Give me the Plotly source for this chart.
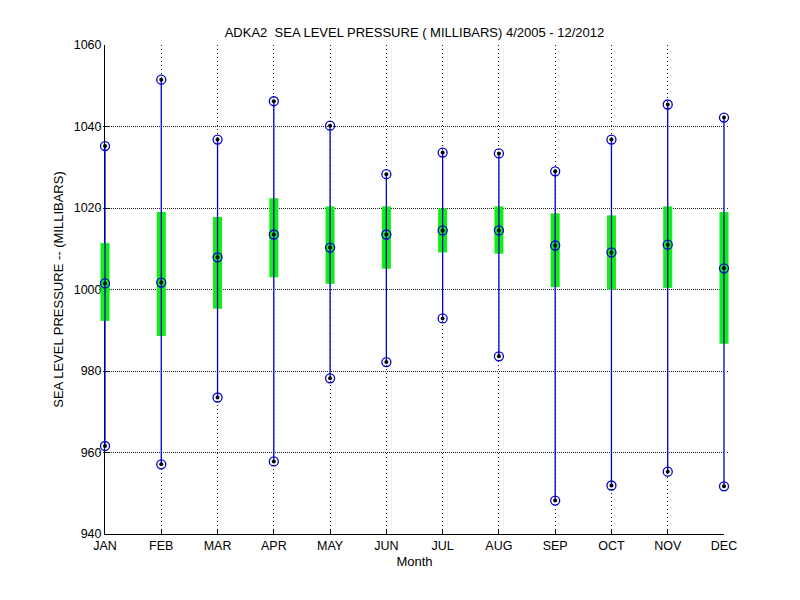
import plotly.graph_objects as go

months = ['JAN', 'FEB', 'MAR', 'APR', 'MAY', 'JUN',
          'JUL', 'AUG', 'SEP', 'OCT', 'NOV', 'DEC']
month_num = list(range(1, 13))

# monthly stats (millibars)
p_max = [1035.2, 1051.5, 1036.8, 1046.2, 1040.2, 1028.3,
         1033.6, 1033.4, 1029.0, 1036.8, 1045.4, 1042.2]
p_min = [961.6, 957.1, 973.5, 957.8, 978.2, 982.2,
         992.9, 983.6, 948.2, 951.9, 955.3, 951.7]
q_top = [1011.4, 1019.0, 1017.8, 1022.4, 1020.4, 1020.4,
         1019.9, 1020.4, 1018.7, 1018.2, 1020.4, 1019.0]
q_bot = [992.3, 988.6, 995.3, 1003.0, 1001.4, 1005.1,
         1009.1, 1008.8, 1000.6, 1000.0, 1000.4, 986.7]
p_med = [1001.5, 1001.7, 1007.9, 1013.5, 1010.3, 1013.5,
         1014.5, 1014.5, 1010.8, 1009.1, 1011.0, 1005.2]

FONT = 'Liberation Sans, Arial, sans-serif'
BLUE = '#0000cc'
GREEN = '#11ee11'
clear = 'rgba(0,0,0,0)'

# axes box is 619 px wide; traces go on a second x axis that is
# 6 px wider on each side so the end bars are not clipped
W_AX = 619
PAD = 6
W_ALL = W_AX + 2 * PAD
u = 11 / W_AX
x2_range = [1 - PAD * u, 12 + PAD * u]

fig = go.Figure()

# invisible trace so the main axes get drawn
fig.add_trace(go.Scatter(
    x=month_num, y=p_med, mode='markers', xaxis='x', yaxis='y',
    marker=dict(color=clear, size=1), hoverinfo='skip', showlegend=False))

# green bars
fig.add_trace(go.Scatter(
    x=month_num, y=p_med, mode='markers', cliponaxis=False,
    xaxis='x2', yaxis='y',
    marker=dict(color=clear, size=1),
    error_y=dict(type='data', symmetric=False,
                 array=[t - m for t, m in zip(q_top, p_med)],
                 arrayminus=[m - b for m, b in zip(p_med, q_bot)],
                 color=GREEN, thickness=9, width=0),
    hoverinfo='skip', showlegend=False))

# blue min-max line
fig.add_trace(go.Scatter(
    x=month_num, y=p_med, mode='markers', cliponaxis=False,
    xaxis='x2', yaxis='y',
    marker=dict(color=clear, size=1),
    error_y=dict(type='data', symmetric=False,
                 array=[t - m for t, m in zip(p_max, p_med)],
                 arrayminus=[m - b for m, b in zip(p_med, p_min)],
                 color=BLUE, thickness=1.3, width=0),
    hoverinfo='skip', showlegend=False))

for ys in (p_max, p_min, p_med):
    fig.add_trace(go.Scatter(
        x=month_num, y=ys, mode='markers', cliponaxis=False,
        xaxis='x2', yaxis='y',
        marker=dict(symbol='circle-open', size=9, color=BLUE,
                    line=dict(width=1.3, color=BLUE)),
        showlegend=False))
    fig.add_trace(go.Scatter(
        x=month_num, y=ys, mode='markers', cliponaxis=False,
        xaxis='x2', yaxis='y',
        marker=dict(symbol='circle', size=4, color='black'),
        showlegend=False))

# page body adds 8px, so margins are shifted by that
fig.update_layout(
    width=800, height=600,
    margin=dict(l=97 - PAD, r=84 - PAD, t=37, b=74),
    paper_bgcolor='white', plot_bgcolor=clear,
    font=dict(family=FONT, size=12.5, color='black'),
    title=dict(text='ADKA2  SEA LEVEL PRESSURE ( MILLIBARS) 4/2005 - 12/2012',
               x=0.5, xref='paper', xanchor='center',
               y=1, yref='paper', yanchor='bottom', pad=dict(b=8),
               font=dict(family=FONT, size=13, color='black')),
    xaxis=dict(domain=[PAD / W_ALL, (PAD + W_AX) / W_ALL],
               range=[1, 12], tickmode='array', tickvals=month_num,
               ticktext=months, ticks='inside', ticklen=5, tickcolor='black',
               showline=True, linecolor='black', linewidth=1,
               showgrid=True, gridcolor='#222222', griddash='1px,3px',
               gridwidth=1, zeroline=False, automargin=False,
               layer='below traces', anchor='y',
               title=dict(text='Month', standoff=4, font=dict(size=13))),
    xaxis2=dict(domain=[0, 1], range=x2_range, anchor='y', visible=False,
                showgrid=False, zeroline=False),
    yaxis=dict(range=[940, 1060], dtick=20, ticks='inside', ticklen=5,
               tickcolor='black', anchor='x',
               showline=True, linecolor='black', linewidth=1,
               showgrid=True, gridcolor='#222222', griddash='1px,3px',
               gridwidth=1, zeroline=False, automargin=False,
               layer='below traces',
               title=dict(text='SEA LEVEL PRESSURE -- (MILLIBARS)',
                          standoff=7, font=dict(size=13))),
)

fig.write_html('out.html')
